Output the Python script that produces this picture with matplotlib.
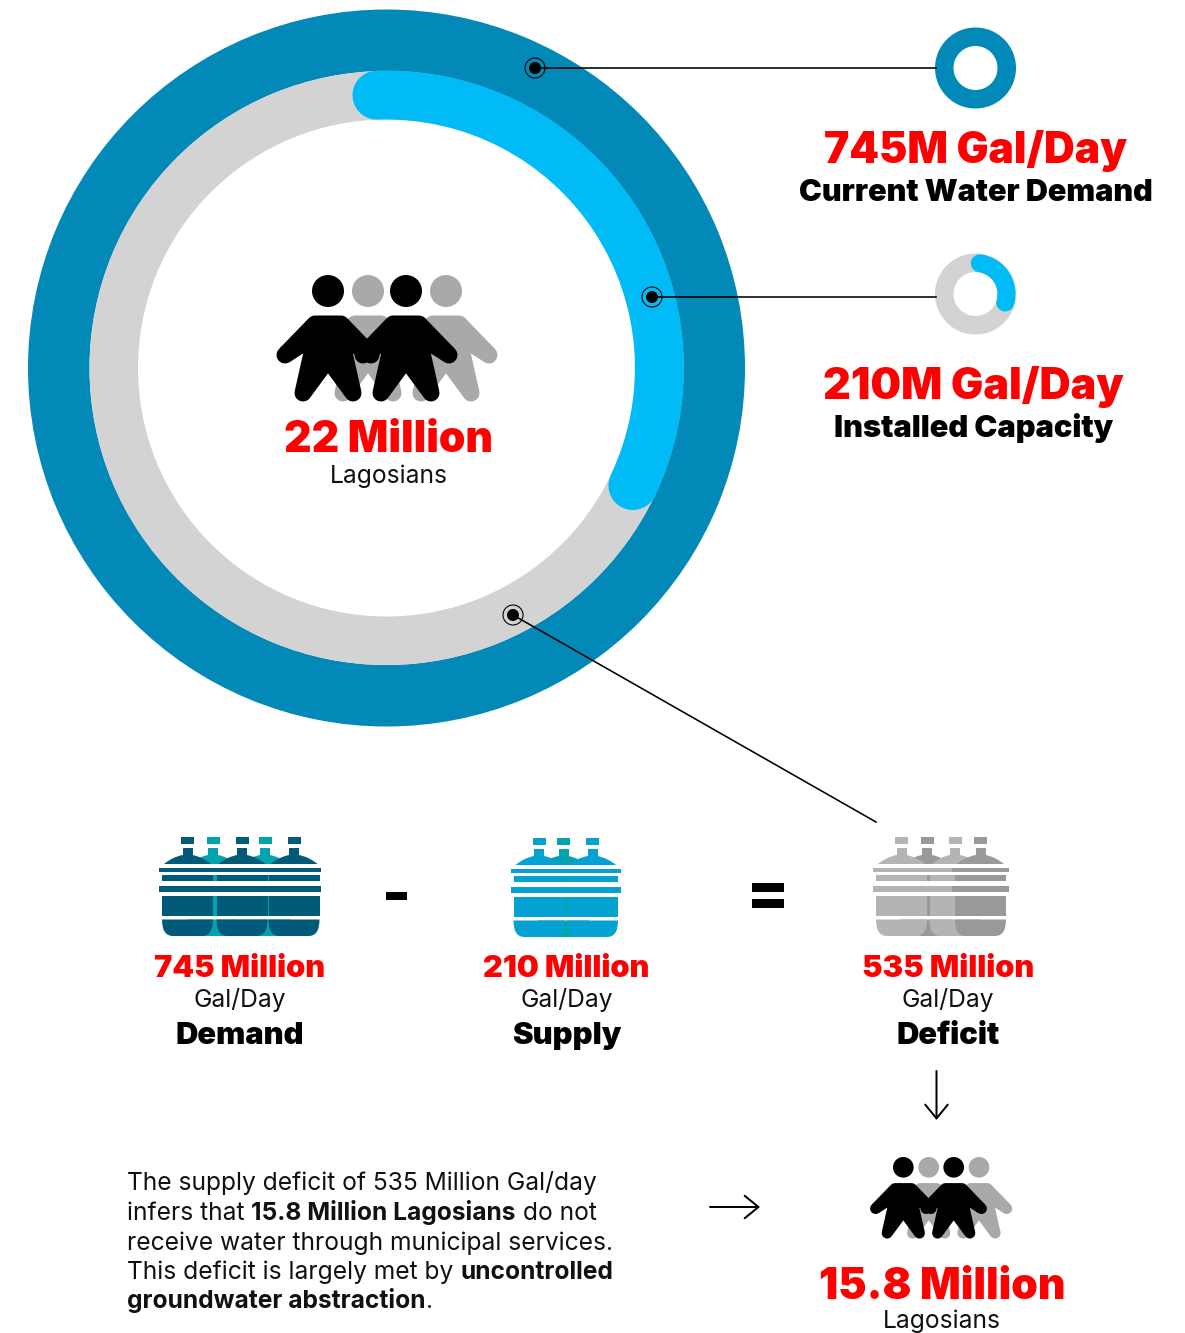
import matplotlib
matplotlib.use("Agg")
import matplotlib.pyplot as plt
from matplotlib import patches
from matplotlib.path import Path

# =============================
# DATA
# =============================
POPULATION = "22 Million"
PEOPLE_UNIT = "Lagosians"
DEMAND_HEAD = "745M Gal/Day"
DEMAND_SUB = "Current Water Demand"
CAPACITY_HEAD = "210M Gal/Day"
CAPACITY_SUB = "Installed Capacity"
BALANCE_VALUES = ["745 Million", "210 Million", "535 Million"]
BALANCE_LABELS = ["Demand", "Supply", "Deficit"]
UNIT = "Gal/Day"
UNSERVED = "15.8 Million"

# arc extent, degrees clockwise from 12 o'clock
BIG_ARC = [-2, 115.5]
SMALL_ARC = [8, 106]

PARAGRAPH = [
    [("The supply deficit of 535 Million Gal/day", 400)],
    [("infers that ", 400), ("15.8 Million Lagosians", 700), (" do not", 400)],
    [("receive water through municipal services.", 400)],
    [("This deficit is largely met by ", 400), ("uncontrolled", 700)],
    [("groundwater abstraction", 700), (".", 400)],
]

# =============================
# COLOURS
# =============================
RED = "#fe0000"
DARK_BLUE = "#0289b8"
LIGHT_BLUE = "#00bbf5"
RING_GRAY = "#d3d3d3"
PERSON_GRAY = "#a9a9a9"
NAVY = "#015b78"
TEAL = "#03a3ad"
WATER = "#04a1d3"
BOTTLE_LIGHT = "#b4b4b4"
BOTTLE_DARK = "#999999"

PX = 0.72  # one pixel in points at dpi 100

fig = plt.figure(figsize=(11.85, 13.33), dpi=100)
ax = fig.add_axes([0, 0, 1, 1])
ax.set_xlim(0, 1185)
ax.set_ylim(1333, 0)
ax.axis("off")


def ring(cx, cy, outer, inner, color):
    ax.add_patch(patches.Wedge((cx, cy), outer, 0, 360, width=outer - inner,
                               facecolor=color, edgecolor="none"))


def arc(cx, cy, radius, width, span, color):
    # y axis points down, so angles already run clockwise
    ax.add_patch(patches.Arc((cx, cy), 2 * radius, 2 * radius,
                             theta1=span[0] - 90, theta2=span[1] - 90,
                             linewidth=width * PX, color=color, capstyle="round"))


def label(x, y, s, size, weight, color="black"):
    ax.text(x, y, s, ha="center", va="baseline", family="Inter",
            fontsize=size, weight=weight, color=color)


def person(hx, hy, scale, color):
    ax.add_patch(patches.Circle((hx, hy), 16 * scale, facecolor=color, edgecolor="none"))
    shape = [(-13, 33), (13, 33), (43, 64), (12, 44), (25, 102), (0, 68),
             (-25, 102), (-12, 44), (-43, 64)]
    pts = [(hx + a * scale, hy + b * scale) for a, b in shape]
    ax.add_patch(patches.Polygon(pts, closed=True, facecolor=color, edgecolor=color,
                                 linewidth=17 * scale * PX, joinstyle="round"))


def people(heads_gray, heads_black, hy, scale):
    for hx in heads_gray:
        person(hx, hy, scale, PERSON_GRAY)
    for hx in heads_black:
        person(hx, hy, scale, "black")


def box(x0, x1, y0, y1, color):
    ax.add_patch(patches.Rectangle((x0, y0), x1 - x0, y1 - y0, facecolor=color,
                                   edgecolor="none"))


def bottle(xc, top, color, right=3):
    w = 25.5
    box(xc - 6.5, xc + 6.5, top, top + 7, color)
    box(xc - 5, xc + 5, top + 11, top + 18, color)
    dome = Path([(xc - 23.5, top + 27), (xc - 15, top + 20), (xc - 5, top + 18),
                 (xc + 5, top + 18), (xc + 15, top + 20), (xc + 23.5, top + 27),
                 (xc - 23.5, top + 27)],
                [Path.MOVETO, Path.CURVE3, Path.CURVE3, Path.LINETO,
                 Path.CURVE3, Path.CURVE3, Path.CLOSEPOLY])
    ax.add_patch(patches.PathPatch(dome, facecolor=color, edgecolor="none"))
    box(xc - w - 3, xc + w + right, top + 31, top + 34.5, color)
    box(xc - w, xc + w, top + 38, top + 44, color)
    box(xc - w - 3, xc + w + right, top + 49, top + 55, color)
    box(xc - w, xc + w, top + 59, top + 79, color)
    y0, y1 = top + 82.5, top + 99
    base = Path([(xc - w, y0), (xc - w, y1), (xc - w + 11, y1), (xc + w - 11, y1),
                 (xc + w, y1), (xc + w, y0), (xc - w, y0)],
                [Path.MOVETO, Path.CURVE3, Path.CURVE3, Path.LINETO,
                 Path.CURVE3, Path.CURVE3, Path.CLOSEPOLY])
    ax.add_patch(patches.PathPatch(base, facecolor=color, edgecolor="none"))


def callout(x0, y0, x1, y1):
    ax.plot([x0, x1], [y0, y1], color="black", linewidth=1.6 * PX, zorder=5)
    ax.add_patch(patches.Circle((x0, y0), 6, facecolor="black", edgecolor="none", zorder=6))
    ax.add_patch(patches.Circle((x0, y0), 10, facecolor="none", edgecolor="black",
                                linewidth=1.1 * PX, zorder=6))


def arrow(x0, y0, x1, y1):
    ax.annotate("", xy=(x1, y1), xytext=(x0, y0),
                arrowprops=dict(arrowstyle="->,head_length=0.55,head_width=0.45",
                                mutation_scale=18, color="black", linewidth=2 * PX,
                                shrinkA=0, shrinkB=0))


def text_width(s, size, weight, renderer):
    # padded with x so that spaces at the ends are counted
    probe = ax.text(0, 0, "x" + s + "x", family="Inter", fontsize=size, weight=weight)
    wide = probe.get_window_extent(renderer).width
    probe.set_text("xx")
    narrow = probe.get_window_extent(renderer).width
    probe.remove()
    return wide - narrow


# =============================
# MAIN RINGS
# =============================
ring(386.5, 368, 358.5, 297, DARK_BLUE)
ring(386.5, 368, 297, 248.5, RING_GRAY)
arc(386.5, 368, 273, 49, BIG_ARC, LIGHT_BLUE)

people([368, 446], [328, 406], 291, 1.0)
label(388, 452.5, POPULATION, 30.6, 900, RED)
label(388.5, 482.5, PEOPLE_UNIT, 17.7, 400, "#111111")

callout(535, 68, 936, 68)
callout(652, 297, 936, 297)
callout(513, 615, 876, 822)

# =============================
# SMALL RINGS
# =============================
ring(975.5, 68, 40.5, 22, DARK_BLUE)
label(975.5, 163.5, DEMAND_HEAD, 30.6, 900, RED)
label(976, 201, DEMAND_SUB, 22, 900)

ring(975.5, 294, 40.5, 22, RING_GRAY)
arc(975.5, 294, 31, 18, SMALL_ARC, LIGHT_BLUE)
label(973, 399.5, CAPACITY_HEAD, 31, 900, RED)
label(973.5, 437, CAPACITY_SUB, 22.2, 900)

# =============================
# BOTTLES
# =============================
for xc in [213, 265]:
    bottle(xc, 837, TEAL)
bottle(187.5, 837, NAVY)
bottle(242, 837, NAVY)
bottle(294, 837, NAVY, right=1)

bottle(563.5, 838, TEAL)
for xc in [539, 592.5]:
    bottle(xc, 838, WATER)

bottle(927, 837, BOTTLE_DARK)
bottle(901.5, 837, BOTTLE_LIGHT)
bottle(955, 837, BOTTLE_LIGHT)
bottle(980.5, 837, BOTTLE_DARK)

box(386, 407, 892, 900, "black")
box(752, 784, 883, 892, "black")
box(752, 784, 899, 908, "black")

for xc, value, name in zip([239.5, 566.5, 948], BALANCE_VALUES, BALANCE_LABELS):
    label(xc, 977, value, 22.2, 900, RED)
    label(xc, 1007, UNIT, 17.7, 400, "#111111")
    label(xc, 1044.5, name, 22.3, 900)

arrow(936.5, 1071, 936.5, 1120)
arrow(710, 1207, 760, 1207)

# =============================
# BOTTOM TEXT
# =============================
renderer = fig.canvas.get_renderer()
for baseline, line in zip([1190, 1219.8, 1249.6, 1279, 1308.3], PARAGRAPH):
    x = 127
    for s, weight in line:
        ax.text(x, baseline, s, ha="left", va="baseline", family="Inter",
                fontsize=17.7, weight=weight, color="#111111")
        x += text_width(s, 17.7, weight, renderer)

people([928.7, 979], [903.3, 953.7], 1167.3, 0.645)
label(942, 1299, UNSERVED, 30.7, 900, RED)
label(942, 1328, PEOPLE_UNIT, 17.7, 400, "#111111")

fig.savefig("out.png", dpi=100)
